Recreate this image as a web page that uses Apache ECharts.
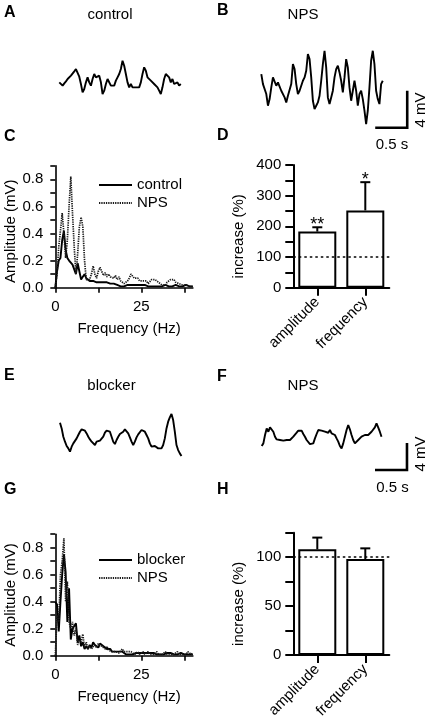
<!DOCTYPE html>
<html><head><meta charset="utf-8">
<script src="https://cdn.jsdelivr.net/npm/echarts@6/dist/echarts.min.js"></script>
<style>html,body{margin:0;padding:0;background:#fff}#c{width:430px;height:725px}</style>
</head><body><div id="c"></div>
<script>
const FONT = 'Liberation Sans, Arial, Helvetica, sans-serif';

// ---- voltage traces (mV, sampled every sampleDt seconds) ----
const sampleDt = 0.026;
const traceA = [-0.18,-0.36,-0.54,-0.29,-0.07,0.18,0.36,0.54,0.72,1.01,1.26,1.44,0.43,-0.36,-1.26,-0.90,-0.18,0.36,-0.18,-0.54,0.18,0.72,0.36,0.18,0.54,-0.18,-1.44,-1.08,-0.36,0.18,0,-0.54,-0.72,-0.54,0,0.36,0.72,1.26,2.16,1.62,0.72,-0.18,-0.72,-0.36,-0.72,-0.54,-0.72,-0.54,-0.72,-0.18,0.72,1.44,1.08,0.36,0.18,0,-0.18,-0.36,-0.54,-0.72,-1.08,-1.44,-0.72,0.18,0.72,0.54,0.36,-0.18,0.18,-0.36,-0.54,-0.18,-0.54,-0.36];
const traceB = [1.80,0.72,0.90,-0.36,-1.62,-0.90,0.36,1.44,1.26,0.54,0.90,0.72,0,-0.18,-0.72,-1.26,-0.54,-0.72,0.72,2.88,2.34,0.72,-0.36,0,-0.18,1.08,1.44,2.16,3.96,3.42,1.44,-1.08,-1.98,-1.62,-1.26,-0.54,1.08,2.88,4.32,2.52,-0.72,-1.44,-0.72,0,1.44,2.34,2.70,1.98,1.08,-0.18,1.44,3.42,2.52,0.36,-1.08,0,1.08,0,-1.62,-0.36,0,-0.90,-2.16,-3.60,-2.16,0.36,3.24,4.32,2.88,0,-0.90,-1.44,0.72,1.08];
const traceE = [2.07,1.23,0,-0.74,-1.38,-1.73,-2.22,-1.48,-0.99,-0.74,-0.25,0.25,0.74,1.09,1.33,0.89,0.49,0,-0.40,-0.74,-0.99,-1.23,-0.74,-0.89,-0.59,-0.49,0,0.59,0.89,0.99,0.74,0,-0.74,-1.09,-0.49,0,0.40,0.59,0.74,1.09,0.99,0.49,-0.10,-0.74,-1.23,-0.74,-0.10,0.35,0.59,0.99,1.09,0.74,0.25,-0.25,-0.99,-1.48,-1.23,-1.38,-1.48,-1.73,-1.58,-1.73,-1.23,-0.25,1.23,2.22,2.86,3.36,2.47,0.74,-1.23,-1.98,-2.47,-2.86];
const traceF = [-1.38,-0.99,0.25,1.23,0.74,1.38,1.58,0.74,0,-0.40,-0.59,-0.49,-0.40,-0.59,-0.74,-0.49,-0.40,-0.49,-0.25,0,0.25,0.59,0.89,0.74,0.89,0.40,0,-0.49,-0.74,-1.09,-1.38,-0.99,-0.25,0.40,0.99,0.74,0.89,1.09,0.74,0.89,0.59,0.99,0.49,0.74,0.25,-0.25,-0.74,-1.38,-1.73,-0.99,0,0.99,1.73,1.09,0.25,-0.49,-0.99,-1.09,-0.49,-0.25,0,-0.10,0.25,0.49,0.25,0.40,0.74,0.99,1.38,1.98,1.38,0.74,0];

// scale bars: 4 mV x 0.5 s (corner position in trace coordinates)
const scaleBarMv = 4, scaleBarSec = 0.5;
const scaleCornerB = [2.28, -4.0];
const scaleCornerF = [2.27, -4.93];

// ---- amplitude spectra (mV), every 0.5 Hz from 0 to 40 Hz ----
const freqStep = 0.5;
const specCcontrol = [0.00,0.12,0.20,0.22,0.35,0.42,0.28,0.22,0.20,0.19,0.17,0.17,0.10,0.18,0.12,0.06,0.08,0.10,0.07,0.06,
  0.05,0.06,0.05,0.05,0.04,0.05,0.04,0.05,0.04,0.03,0.04,0.05,0.03,0.02,0.03,0.04,0.02,0.03,0.01,0.02,
  0.01,0.02,0.02,0.03,0.02,0.01,0.02,0.03,0.02,0.01,0.02,0.03,0.02,0.01,0.01,0.02,0.01,0.02,0.01,0.02,
  0.01,0.02,0.01,0.01,0.02,0.01,0.01,0.02,0.01,0.01,0.02,0.01,0.01,0.02,0.01,0.01,0.02,0.01,0.01,0.01,0.01];
const specCnps = [0.00,0.10,0.30,0.42,0.55,0.40,0.22,0.35,0.60,0.82,0.55,0.30,0.10,0.25,0.45,0.52,0.45,0.20,0.06,0.07,
  0.06,0.10,0.16,0.10,0.07,0.12,0.15,0.12,0.09,0.11,0.08,0.10,0.08,0.09,0.07,0.09,0.06,0.08,0.05,0.04,
  0.03,0.04,0.05,0.07,0.10,0.09,0.07,0.06,0.07,0.05,0.06,0.05,0.04,0.05,0.03,0.04,0.06,0.05,0.06,0.07,
  0.04,0.03,0.02,0.03,0.02,0.04,0.05,0.06,0.07,0.06,0.04,0.05,0.03,0.04,0.02,0.03,0.02,0.03,0.01,0.02,0.01];
const specGblocker = [0.40,0.38,0.18,0.40,0.60,0.75,0.62,0.25,0.50,0.12,0.20,0.22,0.24,0.10,0.15,0.07,0.10,0.05,0.07,0.05,
  0.08,0.06,0.10,0.08,0.07,0.06,0.09,0.10,0.07,0.06,0.05,0.04,0.05,0.03,0.04,0.03,0.02,0.03,0.02,0.03,
  0.02,0.01,0.02,0.01,0.02,0.01,0.02,0.02,0.01,0.02,0.01,0.02,0.01,0.02,0.01,0.02,0.01,0.02,0.01,0.01,
  0.02,0.01,0.02,0.01,0.01,0.02,0.01,0.02,0.01,0.01,0.02,0.01,0.01,0.02,0.01,0.01,0.02,0.01,0.02,0.01,0.01];
const specGnps = [0.00,0.30,0.25,0.60,0.70,0.87,0.40,0.55,0.25,0.20,0.25,0.15,0.20,0.08,0.12,0.10,0.16,0.06,0.10,0.05,
  0.07,0.05,0.06,0.08,0.06,0.09,0.10,0.07,0.08,0.05,0.07,0.04,0.05,0.03,0.04,0.03,0.04,0.02,0.03,0.05,
  0.03,0.02,0.03,0.02,0.03,0.02,0.01,0.02,0.03,0.01,0.02,0.03,0.01,0.02,0.03,0.01,0.02,0.01,0.02,0.03,
  0.01,0.02,0.01,0.02,0.03,0.01,0.02,0.01,0.02,0.01,0.02,0.03,0.01,0.02,0.01,0.02,0.01,0.03,0.02,0.01,0.02];

// ---- bar panels ----
const barCategories = ['amplitude', 'frequency'];
const dValues = [183, 252];
const dErrors = [14, 92];
const dStars = ['**', '*'];
const hValues = [108, 98];
const hErrors = [12, 11];
const refLevel = 100;

// ---- tick labels ----
const specYLabels = [0, 0.2, 0.4, 0.6, 0.8];
const specXTicks = [0, 12.5, 25, 37.5];
const specXLabels = [0, 25];
const dYLabels = [0, 100, 200, 300, 400];
const hYLabels = [0, 50, 100];

const has = (arr, v) => arr.some(a => Math.abs(a - v) < 1e-6);
const traceXY = arr => arr.map((v, i) => [+(i * sampleDt).toFixed(4), v]);
const specXY = arr => arr.map((v, i) => [i * freqStep, v]);
const scaleBarXY = c => [[c[0] - scaleBarSec, c[1]], [c[0], c[1]], [c[0], c[1] + scaleBarMv]];

const BLACK = '#000';
const txt = (size, extra) => Object.assign({ fontFamily: FONT, fontSize: size, color: BLACK }, extra || {});

function hiddenAxes(gi, xr, yr) {
  return [
    { type: 'value', gridIndex: gi, min: xr[0], max: xr[1], show: false },
    { type: 'value', gridIndex: gi, min: yr[0], max: yr[1], show: false }
  ];
}
function specAxes(gi, namePadY) {
  return [
    { type: 'value', gridIndex: gi, min: 0, max: 40, interval: 12.5,
      axisLine: { show: true, lineStyle: { color: BLACK, width: 1.6 } },
      axisTick: { show: true, length: 5, customValues: specXTicks, lineStyle: { color: BLACK, width: 1.6 } },
      axisLabel: { customValues: specXLabels, margin: 12, ...txt(15), formatter: v => has(specXLabels, v) ? String(v) : '' },
      splitLine: { show: false },
      name: 'Frequency (Hz)', nameLocation: 'middle', nameGap: 34,
      nameTextStyle: txt(15, { padding: [0, 0, 0, 10] }) },
    { type: 'value', gridIndex: gi, min: 0, max: 0.9, interval: 0.1,
      axisLine: { show: true, lineStyle: { color: BLACK, width: 1.6 } },
      axisTick: { show: true, length: 5, lineStyle: { color: BLACK, width: 1.6 } },
      axisLabel: { margin: 12, ...txt(15), formatter: v => has(specYLabels, v) ? v.toFixed(1) : '' },
      splitLine: { show: false },
      name: 'Amplitude (mV)', nameLocation: 'middle', nameGap: 37,
      nameTextStyle: txt(15, { padding: [0, namePadY, 0, 0] }) }
  ];
}
function barAxes(gi, maxV, step, labels) {
  return [
    { type: 'category', gridIndex: gi, data: barCategories,
      axisLine: { show: true, lineStyle: { color: BLACK, width: 2 } },
      axisTick: { show: true, alignWithLabel: true, length: 8, lineStyle: { color: BLACK, width: 2 } },
      axisLabel: { rotate: 45, margin: 12, ...txt(15) } },
    { type: 'value', gridIndex: gi, min: 0, max: maxV, interval: step,
      axisLine: { show: true, lineStyle: { color: BLACK, width: 2 } },
      axisTick: { show: true, length: 8, lineStyle: { color: BLACK, width: 2 } },
      axisLabel: { margin: 12, ...txt(15), formatter: v => has(labels, v) ? String(v) : '' },
      splitLine: { show: false },
      name: 'increase (%)', nameLocation: 'middle', nameGap: 47,
      nameTextStyle: txt(15, { padding: [0, 20, 0, 0] }) }
  ];
}

const traceLine = (gi, data) => ({ type: 'line', xAxisIndex: gi, yAxisIndex: gi, data: traceXY(data),
  symbol: 'none', lineStyle: { color: BLACK, width: 1.9 }, silent: true });
const scaleLine = (gi, corner) => ({ type: 'line', xAxisIndex: gi, yAxisIndex: gi, data: scaleBarXY(corner),
  symbol: 'none', lineStyle: { color: BLACK, width: 2.6, cap: 'butt', join: 'miter' }, silent: true });
const specLine = (gi, name, data, dotted) => ({ type: 'line', name, xAxisIndex: gi, yAxisIndex: gi, data: specXY(data),
  symbol: 'none', color: BLACK,
  lineStyle: { color: dotted ? '#1a1a1a' : BLACK, width: dotted ? 1.7 : 1.9, type: dotted ? [1.3, 1] : 'solid' }, silent: true });

function barSeries(gi, values) {
  return { type: 'bar', xAxisIndex: gi, yAxisIndex: gi, data: values, barWidth: 38,
    itemStyle: { color: '#fff', borderColor: BLACK, borderWidth: 2 }, silent: true,
    markLine: { silent: true, symbol: ['none', 'none'], label: { show: false },
      lineStyle: { color: BLACK, width: 1.6, type: [2.5, 3] }, data: [{ yAxis: refLevel }] } };
}
function errSeries(gi, values, errs, stars) {
  return { type: 'custom', xAxisIndex: gi, yAxisIndex: gi, z: 5, silent: true,
    data: values.map((v, i) => [i, v, errs[i]]),
    renderItem: (params, api) => {
      const i = api.value(0), v = api.value(1), e = api.value(2);
      const p0 = api.coord([i, v]), p1 = api.coord([i, v + e]);
      const ch = [
        { type: 'line', shape: { x1: p0[0], y1: p0[1], x2: p1[0], y2: p1[1] }, style: { stroke: BLACK, lineWidth: 2 } },
        { type: 'line', shape: { x1: p1[0] - 5, y1: p1[1], x2: p1[0] + 5, y2: p1[1] }, style: { stroke: BLACK, lineWidth: 2 } }
      ];
      if (stars && stars[i]) ch.push({ type: 'text', style: { text: stars[i], x: p1[0], y: p1[1] - 2,
        align: 'center', verticalAlign: 'middle', textAlign: 'center', textVerticalAlign: 'middle',
        font: '18px ' + FONT, fill: BLACK } });
      return { type: 'group', children: ch };
    } };
}

// annotation texts
const panelLetters = [['A', 4, 12.5], ['B', 217, 10.5], ['C', 4, 136.5], ['D', 217, 136], ['E', 4, 376], ['F', 217, 377], ['G', 4, 490], ['H', 217, 490]];
const panelTitles = [['control', 110, 15], ['NPS', 303, 15], ['blocker', 111.5, 386], ['NPS', 303, 386]];
const scaleTexts = [['4 mV', 420.5, 110, true], ['0.5 s', 392, 145, false], ['4 mV', 421, 454, true], ['0.5 s', 392.5, 488, false]];

const gElems = [];
panelLetters.forEach(([t, x, y]) => gElems.push({ type: 'text', silent: true, style: { text: t, x, y, align: 'left', verticalAlign: 'middle', textAlign: 'left', textVerticalAlign: 'middle', font: 'bold 16px ' + FONT, fill: BLACK } }));
panelTitles.forEach(([t, x, y]) => gElems.push({ type: 'text', silent: true, style: { text: t, x, y, align: 'center', verticalAlign: 'middle', textAlign: 'center', textVerticalAlign: 'middle', font: '15px ' + FONT, fill: BLACK } }));
scaleTexts.forEach(([t, x, y, rot]) => gElems.push({ type: 'text', silent: true, x, y, rotation: rot ? Math.PI / 2 : 0,
  style: { text: t, x: 0, y: 0, align: 'center', verticalAlign: 'middle', textAlign: 'center', textVerticalAlign: 'middle', font: '15px ' + FONT, fill: BLACK } }));

const G = (left, top, width, height) => ({ left, top, width, height, containLabel: false, outerBoundsMode: 'none' });

const xA = [], yA = [];
function pushAxes(pair) { xA.push(pair[0]); yA.push(pair[1]); }
pushAxes(hiddenAxes(0, [0, 2], [-2.5, 3.5]));
pushAxes(hiddenAxes(1, [0, 2.5], [-5, 4.5]));
pushAxes(specAxes(2, 9));
pushAxes(barAxes(3, 400, 50, dYLabels));
pushAxes(hiddenAxes(4, [0, 2], [-4, 4]));
pushAxes(hiddenAxes(5, [0, 2.5], [-6, 4]));
pushAxes(specAxes(6, 0));
pushAxes(barAxes(7, 125, 25, hYLabels));

const legendBase = { orient: 'vertical', left: 98, itemWidth: 33, itemHeight: 14, itemGap: 3, padding: 0,
  selectedMode: false, textStyle: txt(15), itemStyle: { opacity: 0 } };

const option = {
  animation: false,
  backgroundColor: '#fff',
  grid: [
    G(59.3, 48.3, 128, 55.5),
    G(261.3, 49.1, 160, 87.9),
    G(55.3, 165.75, 137.6, 121.95),
    G(293.3, 165, 96, 122.7),
    G(60, 409.7, 128, 54),
    G(261.7, 409.7, 160, 67.5),
    G(55.3, 534.2, 137.6, 121.5),
    G(293.3, 532.7, 96, 122.3)
  ],
  xAxis: xA,
  yAxis: yA,
  legend: [
    Object.assign({ top: 177.5, data: ['control', 'NPS'] }, legendBase),
    Object.assign({ top: 552.5, data: ['blocker', 'NPS'] }, legendBase)
  ],
  graphic: { elements: gElems },
  series: [
    traceLine(0, traceA),
    traceLine(1, traceB),
    scaleLine(1, scaleCornerB),
    specLine(2, 'control', specCcontrol, false),
    specLine(2, 'NPS', specCnps, true),
    barSeries(3, dValues),
    errSeries(3, dValues, dErrors, dStars),
    traceLine(4, traceE),
    traceLine(5, traceF),
    scaleLine(5, scaleCornerF),
    specLine(6, 'blocker', specGblocker, false),
    specLine(6, 'NPS', specGnps, true),
    barSeries(7, hValues),
    errSeries(7, hValues, hErrors, null)
  ]
};

const chart = echarts.init(document.getElementById('c'), null, { renderer: 'canvas' });
chart.setOption(option);
</script>
</body></html>
